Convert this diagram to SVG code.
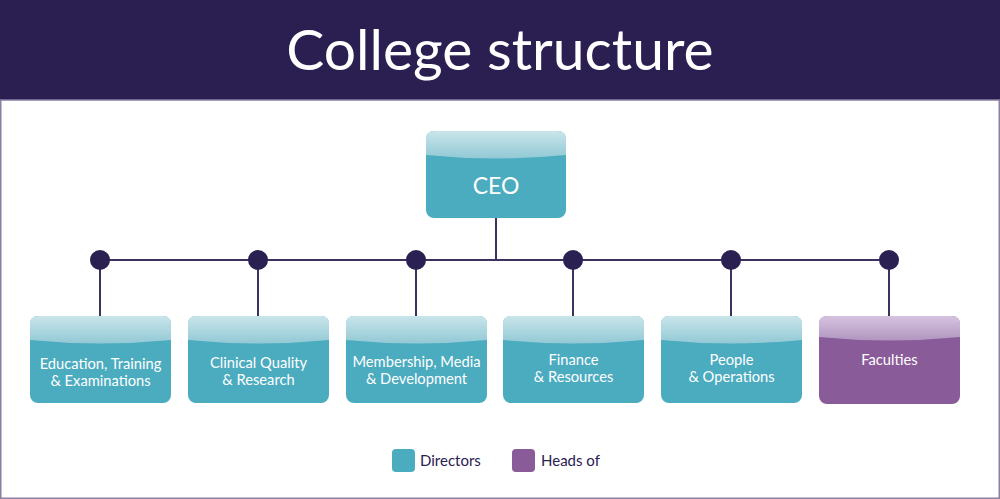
<svg xmlns="http://www.w3.org/2000/svg" width="1000" height="499" viewBox="0 0 1000 499">
<defs>
<linearGradient id="gT" x1="0" y1="0" x2="0" y2="1"><stop offset="0" stop-color="#c9e5ea"/><stop offset="1" stop-color="#92c9d5"/></linearGradient>
<linearGradient id="gP" x1="0" y1="0" x2="0" y2="1"><stop offset="0" stop-color="#d6c3df"/><stop offset="1" stop-color="#b196c0"/></linearGradient>
<style>
.tb{fill:#4babbf}
.pb{fill:#8a5b99}
.tl{fill:url(#gT)}
.pl{fill:url(#gP)}
.lbl{font-family:Lato,"Open Sans",sans-serif;font-size:14.7px;fill:#ffffff;text-anchor:middle}
.ln{stroke:#3d3160;stroke-width:2;fill:none}
.dot{fill:#2b2052}
.leg{font-family:Lato,"Open Sans",sans-serif;font-size:15px;fill:#2b2052}
</style>
</defs>
<rect x="0" y="0" width="1000" height="499" fill="#ffffff"/>
<rect x="0" y="0" width="1000" height="100" fill="#2b1f52"/>
<rect x="0.75" y="100" width="998.5" height="398.25" fill="none" stroke="#8a80a2" stroke-width="1.5"/>
<text x="500" y="70" font-family="Lato,'Open Sans',sans-serif" font-size="57" fill="#ffffff" text-anchor="middle">College structure</text>

<g id="connectors">
<line class="ln" x1="496" y1="218" x2="496" y2="260"/>
<line class="ln" x1="100" y1="260" x2="889" y2="260"/>
<line class="ln" x1="100" y1="260" x2="100" y2="316"/>
<line class="ln" x1="258" y1="260" x2="258" y2="316"/>
<line class="ln" x1="416" y1="260" x2="416" y2="316"/>
<line class="ln" x1="573" y1="260" x2="573" y2="316"/>
<line class="ln" x1="731" y1="260" x2="731" y2="316"/>
<line class="ln" x1="889" y1="260" x2="889" y2="316"/>
<circle class="dot" cx="100" cy="260" r="10"/>
<circle class="dot" cx="258" cy="260" r="10"/>
<circle class="dot" cx="416" cy="260" r="10"/>
<circle class="dot" cx="573" cy="260" r="10"/>
<circle class="dot" cx="731" cy="260" r="10"/>
<circle class="dot" cx="889" cy="260" r="10"/>
</g>

<g id="ceo" transform="translate(426,131)">
<rect class="tb" width="140" height="87" rx="8"/>
<path class="tl" d="M0,8 Q0,0 8,0 H132 Q140,0 140,8 V24 Q70,31 0,24 Z"/>
<text class="lbl" x="70" y="63" style="font-size:23px">CEO</text>
</g>

<g id="education" transform="translate(30,316)">
<rect class="tb" width="141" height="87" rx="8"/>
<path class="tl" d="M0,8 Q0,0 8,0 H133 Q141,0 141,8 V24 Q70.5,31 0,24 Z"/>
<text class="lbl" x="70.5" y="53">Education, Training</text>
<text class="lbl" x="70.5" y="70">&amp; Examinations</text>
</g>

<g id="clinical" transform="translate(188,316)">
<rect class="tb" width="141" height="87" rx="8"/>
<path class="tl" d="M0,8 Q0,0 8,0 H133 Q141,0 141,8 V24 Q70.5,31 0,24 Z"/>
<text class="lbl" x="70.5" y="52">Clinical Quality</text>
<text class="lbl" x="70.5" y="69">&amp; Research</text>
</g>

<g id="membership" transform="translate(346,316)">
<rect class="tb" width="141" height="87" rx="8"/>
<path class="tl" d="M0,8 Q0,0 8,0 H133 Q141,0 141,8 V24 Q70.5,31 0,24 Z"/>
<text class="lbl" x="70.5" y="51">Membership, Media</text>
<text class="lbl" x="70.5" y="68">&amp; Development</text>
</g>

<g id="finance" transform="translate(503,316)">
<rect class="tb" width="141" height="87" rx="8"/>
<path class="tl" d="M0,8 Q0,0 8,0 H133 Q141,0 141,8 V24 Q70.5,31 0,24 Z"/>
<text class="lbl" x="70.5" y="49">Finance</text>
<text class="lbl" x="70.5" y="66">&amp; Resources</text>
</g>

<g id="people" transform="translate(661,316)">
<rect class="tb" width="141" height="87" rx="8"/>
<path class="tl" d="M0,8 Q0,0 8,0 H133 Q141,0 141,8 V24 Q70.5,31 0,24 Z"/>
<text class="lbl" x="70.5" y="49">People</text>
<text class="lbl" x="70.5" y="66">&amp; Operations</text>
</g>

<g id="faculties" transform="translate(819,316)">
<rect class="pb" width="141" height="88" rx="8"/>
<path class="pl" d="M0,8 Q0,0 8,0 H133 Q141,0 141,8 V21 Q70.5,28 0,21 Z"/>
<text class="lbl" x="70.5" y="49">Faculties</text>
</g>

<g id="legend">
<rect class="tb" x="392" y="449" width="23" height="23" rx="4"/>
<text class="leg" x="420" y="466">Directors</text>
<rect class="pb" x="512" y="449" width="23" height="23" rx="4"/>
<text class="leg" x="541" y="466">Heads of</text>
</g>
</svg>
